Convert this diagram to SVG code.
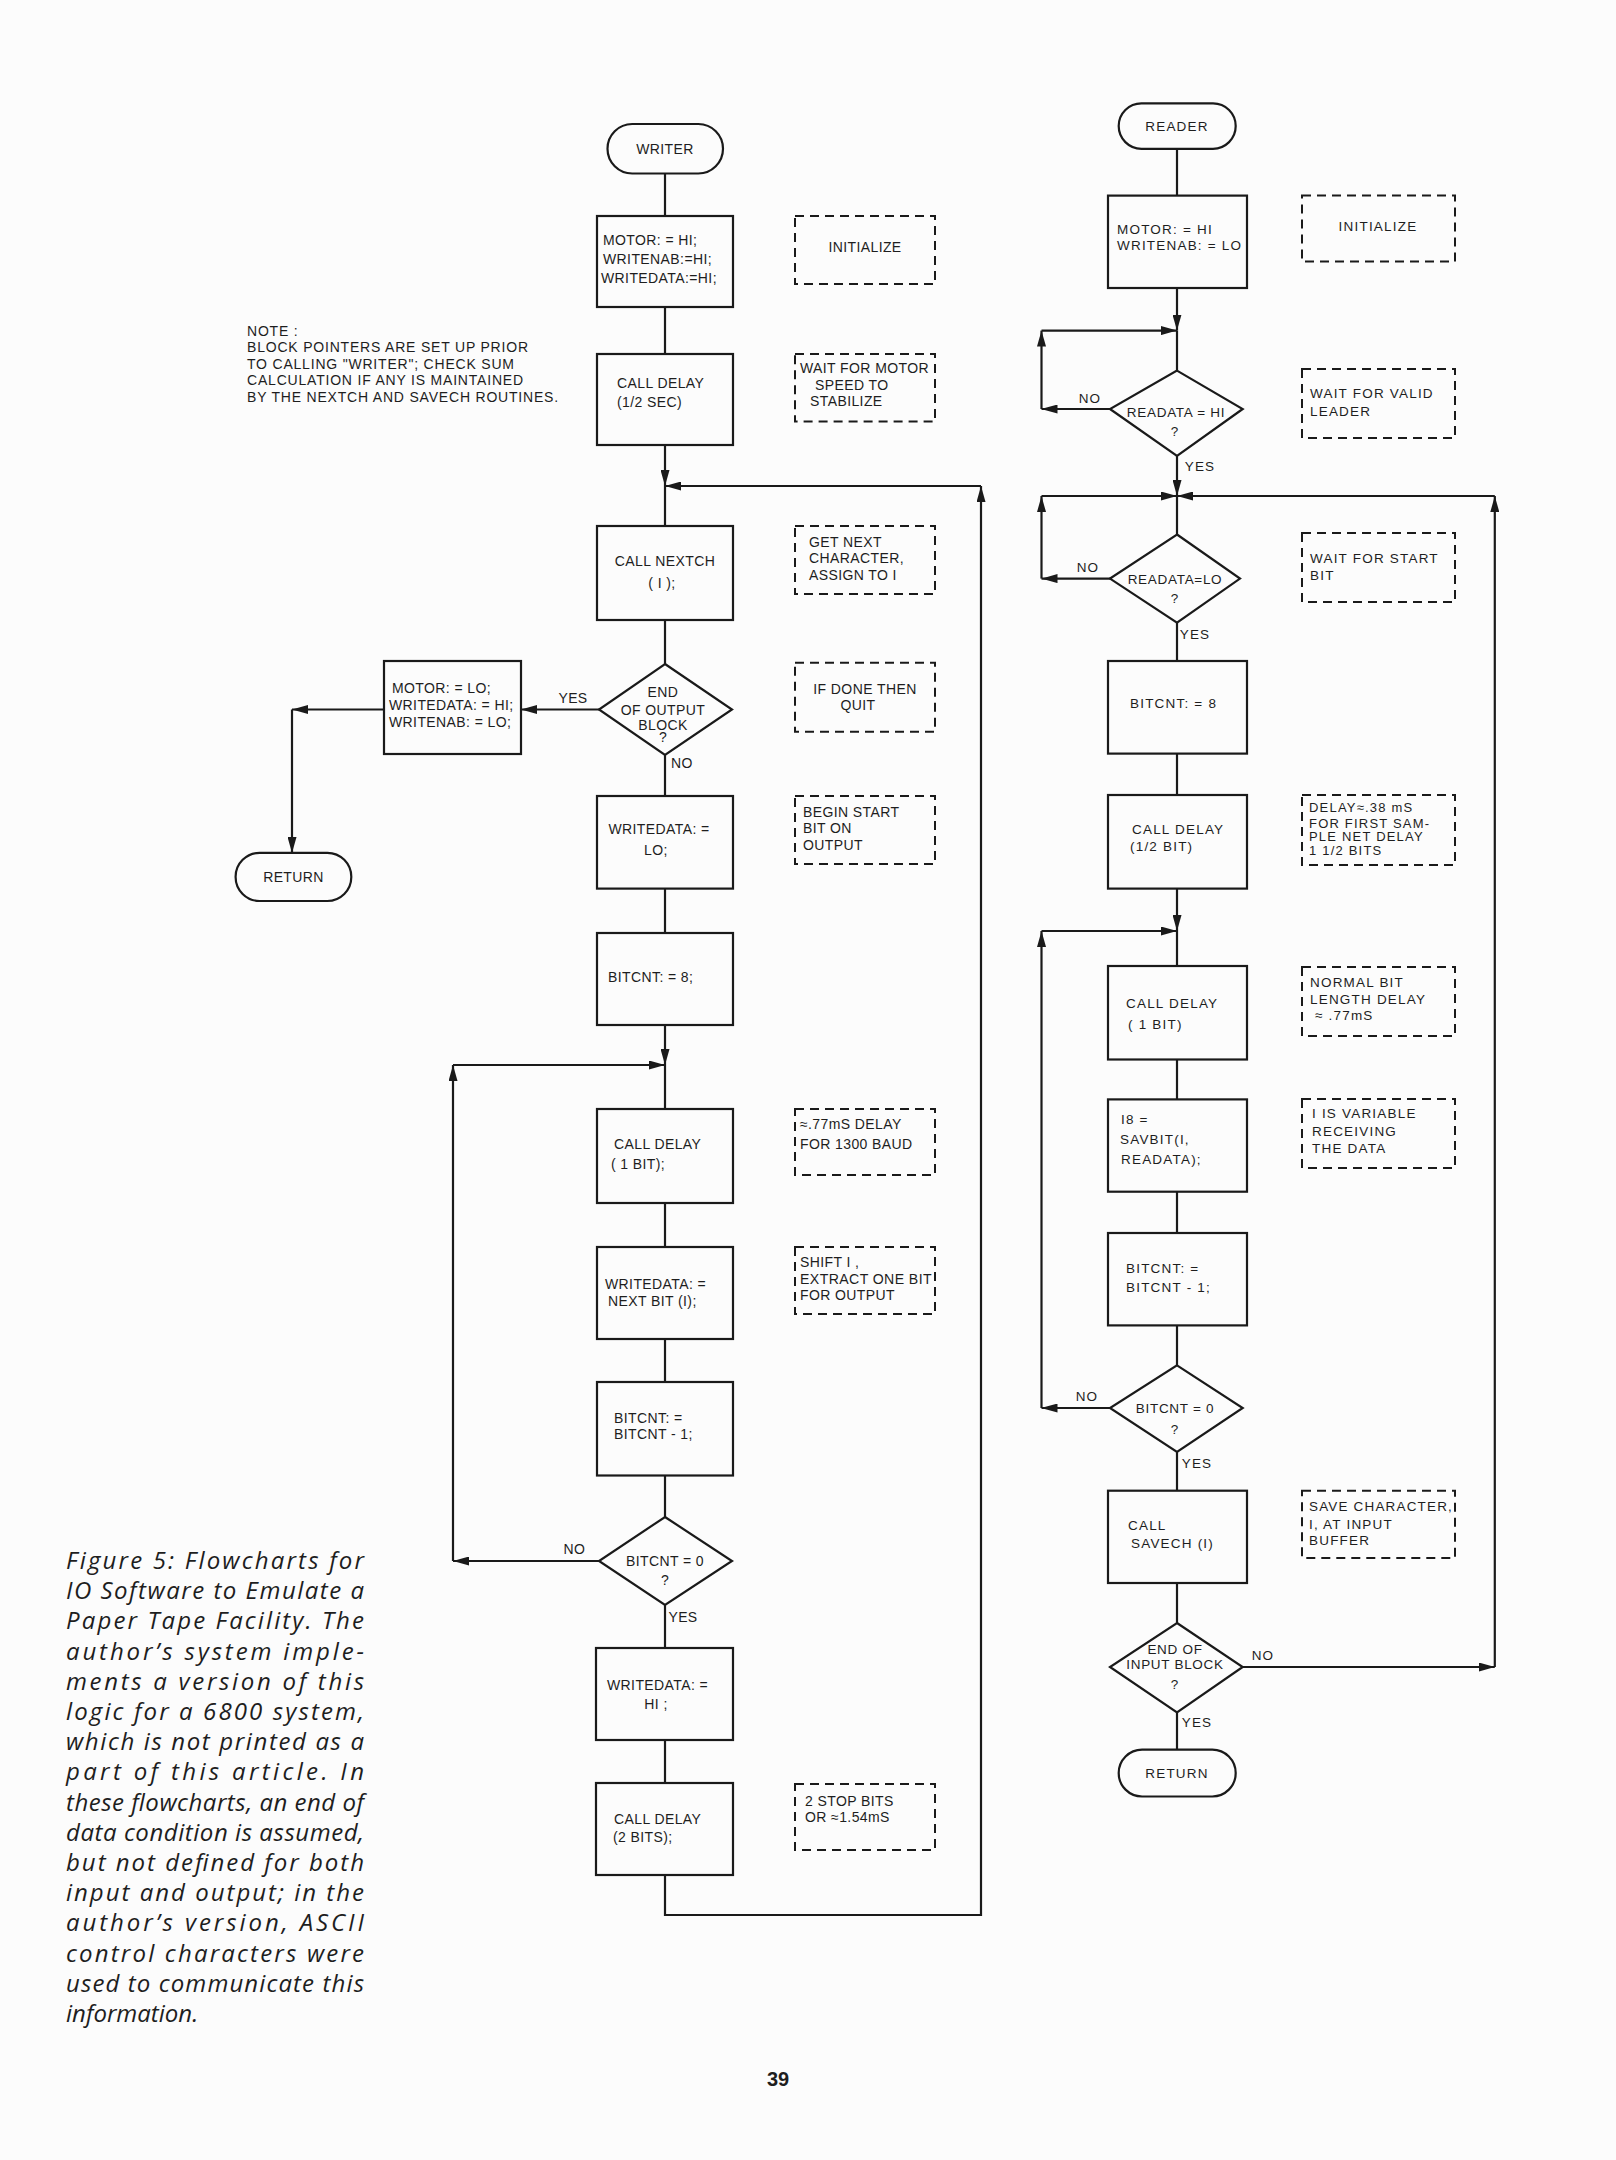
<svg xmlns="http://www.w3.org/2000/svg" width="1616" height="2160" viewBox="0 0 1616 2160">
<defs>
<marker id="ah" viewBox="0 0 16 9" refX="16" refY="4.5" markerWidth="16" markerHeight="9" markerUnits="userSpaceOnUse" orient="auto"><path d="M0,0 L16,4.5 L0,9 z" fill="#1a1a1a"/></marker>
<style>
.box{fill:none;stroke:#1a1a1a;stroke-width:2.2}
.dash{fill:none;stroke:#1a1a1a;stroke-width:2;stroke-dasharray:9 6}
.ln{fill:none;stroke:#1a1a1a;stroke-width:2.2}
.arr{marker-end:url(#ah)}
.w{font-family:"Liberation Sans",Arial,sans-serif;font-size:14px;fill:#1e1e1e;letter-spacing:0.4px}
.r{font-family:"Liberation Sans",Arial,sans-serif;font-size:13.5px;fill:#1e1e1e;letter-spacing:1.2px}
.d{letter-spacing:0.7px}
.c{text-anchor:middle}
.cap{font-family:"Open Sans","Noto Sans",sans-serif;font-style:italic;font-size:24px;fill:#1e1e1e}
.pg{font-family:"Liberation Sans",Arial,sans-serif;font-weight:bold;font-size:20px;fill:#1e1e1e}
</style>
</defs>
<rect width="1616" height="2160" fill="#fcfcfc"/>

<g id="connectors">
<path class="ln" d="M665,173.6 V216"/>
<path class="ln" d="M665,307 V354"/>
<path class="ln arr" d="M665,445 V486"/>
<path class="ln" d="M665,486 V526"/>
<path class="ln arr" d="M665,1875 V1915 H981 V486"/>
<path class="ln arr" d="M981,486 H665"/>
<path class="ln" d="M665,620 V664"/>
<path class="ln arr" d="M599,709.5 H521"/>
<path class="ln arr" d="M384,709.5 H292"/>
<path class="ln arr" d="M292,709.5 V853"/>
<path class="ln" d="M665,755 V796"/>
<path class="ln" d="M665,888.6 V933"/>
<path class="ln arr" d="M665,1025 V1065"/>
<path class="ln arr" d="M453,1561 V1065"/>
<path class="ln arr" d="M453,1065 H665"/>
<path class="ln" d="M665,1065 V1109"/>
<path class="ln" d="M665,1203 V1247"/>
<path class="ln" d="M665,1339 V1382"/>
<path class="ln" d="M665,1475.5 V1517"/>
<path class="ln arr" d="M599,1561 H453"/>
<path class="ln" d="M665,1605 V1648"/>
<path class="ln" d="M665,1740 V1783"/>

<path class="ln" d="M1177,148.8 V195.6"/>
<path class="ln arr" d="M1177,288 V330.6"/>
<path class="ln arr" d="M1041.5,409 V330.6"/>
<path class="ln arr" d="M1041.5,330.6 H1177"/>
<path class="ln arr" d="M1110,409 H1041.5"/>
<path class="ln" d="M1177,330.6 V370.6"/>
<path class="ln arr" d="M1177,456 V496"/>
<path class="ln arr" d="M1041.5,578.6 V496"/>
<path class="ln arr" d="M1041.5,496 H1177"/>
<path class="ln arr" d="M1110,578.6 H1041.5"/>
<path class="ln arr" d="M1494.8,496 H1177"/>
<path class="ln arr" d="M1242.7,1667 H1494.8"/>
<path class="ln arr" d="M1494.8,1667 V496"/>
<path class="ln" d="M1177,496 V534.5"/>
<path class="ln" d="M1177,622.7 V661"/>
<path class="ln" d="M1177,753.6 V795"/>
<path class="ln arr" d="M1177,888.6 V931"/>
<path class="ln arr" d="M1041.5,1408 V931"/>
<path class="ln arr" d="M1041.5,931 H1177"/>
<path class="ln arr" d="M1110,1408 H1041.5"/>
<path class="ln" d="M1177,931 V966"/>
<path class="ln" d="M1177,1059.5 V1099.4"/>
<path class="ln" d="M1177,1191.7 V1233"/>
<path class="ln" d="M1177,1325.4 V1365.3"/>
<path class="ln" d="M1177,1452 V1490.7"/>
<path class="ln" d="M1177,1583 V1623"/>
<path class="ln" d="M1177,1712.5 V1749.7"/>

<text class="w c" x="573" y="703">YES</text>
<text class="w c" x="682" y="768">NO</text>
<text class="w c" x="574.5" y="1554">NO</text>
<text class="w c" x="683" y="1622.4">YES</text>
<text class="r c" x="1090" y="403">NO</text>
<text class="r c" x="1200" y="470.7">YES</text>
<text class="r c" x="1088" y="572">NO</text>
<text class="r c" x="1195" y="638.7">YES</text>
<text class="r c" x="1087" y="1401">NO</text>
<text class="r c" x="1197" y="1468">YES</text>
<text class="r c" x="1263" y="1660">NO</text>
<text class="r c" x="1197" y="1727">YES</text>
</g>

<!-- WRITER -->
<g id="w-start"><rect class="box" x="607.5" y="124" width="115.5" height="49.5" rx="24.7"/><text class="w c" x="665" y="153.5">WRITER</text></g>
<g id="w-init"><rect class="box" x="597" y="216" width="136" height="91"/>
<text class="w" x="603" y="245">MOTOR: = HI;</text><text class="w" x="603" y="264">WRITENAB:=HI;</text><text class="w" x="601" y="283">WRITEDATA:=HI;</text></g>
<g id="w-note1"><rect class="dash" x="795" y="216" width="140" height="68"/><text class="w c" x="865" y="252">INITIALIZE</text></g>
<g id="w-note"><text class="w" x="247" y="335.5" style="letter-spacing:0.8px">NOTE :</text><text class="w" x="247" y="352" style="letter-spacing:0.8px">BLOCK POINTERS ARE SET UP PRIOR</text><text class="w" x="247" y="368.7" style="letter-spacing:0.8px">TO CALLING "WRITER"; CHECK SUM</text><text class="w" x="247" y="385" style="letter-spacing:0.8px">CALCULATION IF ANY IS MAINTAINED</text><text class="w" x="247" y="401.8" style="letter-spacing:0.8px">BY THE NEXTCH AND SAVECH ROUTINES.</text></g>
<g id="w-delay"><rect class="box" x="597" y="354" width="136" height="91"/><text class="w" x="617" y="388">CALL DELAY</text><text class="w" x="617" y="407">(1/2 SEC)</text></g>
<g id="w-note2"><rect class="dash" x="795" y="354" width="140" height="67.6"/><text class="w" x="800" y="373">WAIT FOR MOTOR</text><text class="w" x="815" y="389.5">SPEED TO</text><text class="w" x="810" y="406">STABILIZE</text></g>
<g id="w-nextch"><rect class="box" x="597" y="526" width="136" height="94"/><text class="w c" x="665" y="566">CALL NEXTCH</text><text class="w c" x="662" y="588">( I );</text></g>
<g id="w-note3"><rect class="dash" x="795" y="526" width="140" height="68"/><text class="w" x="809" y="546.5">GET NEXT</text><text class="w" x="809" y="563">CHARACTER,</text><text class="w" x="809" y="579.5">ASSIGN TO I</text></g>
<g id="w-dec1"><path class="box" d="M665,664 L732,709.5 L665,755 L599,709.5 Z"/><text class="w c" x="663" y="696.5">END</text><text class="w c" x="663" y="714.5">OF OUTPUT</text><text class="w c" x="663" y="729.7">BLOCK</text><text class="w c" x="663" y="742">?</text></g>
<g id="w-stop"><rect class="box" x="384" y="661" width="137" height="93"/><text class="w" x="392" y="692.5">MOTOR: = LO;</text><text class="w" x="389" y="710.4">WRITEDATA: = HI;</text><text class="w" x="389" y="727">WRITENAB: = LO;</text></g>
<g id="w-return"><rect class="box" x="235.6" y="852.8" width="115.7" height="48.2" rx="24"/><text class="w c" x="293.5" y="882">RETURN</text></g>
<g id="w-note4"><rect class="dash" x="795" y="662.7" width="140" height="69"/><text class="w c" x="865" y="694">IF DONE THEN</text><text class="w c" x="858" y="710.4">QUIT</text></g>
<g id="w-startbit"><rect class="box" x="597" y="796" width="136" height="92.6"/><text class="w c" x="659" y="834.4">WRITEDATA: =</text><text class="w c" x="656" y="855">LO;</text></g>
<g id="w-note5"><rect class="dash" x="795" y="796" width="140" height="68"/><text class="w" x="803" y="816.5">BEGIN START</text><text class="w" x="803" y="833">BIT ON</text><text class="w" x="803" y="849.5">OUTPUT</text></g>
<g id="w-bitcnt"><rect class="box" x="597" y="933" width="136" height="92"/><text class="w" x="608" y="981.8">BITCNT: = 8;</text></g>
<g id="w-delay1"><rect class="box" x="597" y="1109" width="136" height="94"/><text class="w" x="614" y="1148.5">CALL DELAY</text><text class="w" x="611" y="1169">( 1 BIT);</text></g>
<g id="w-note6"><rect class="dash" x="795" y="1109" width="140" height="66"/><text class="w" x="800" y="1129">≈.77mS DELAY</text><text class="w" x="800" y="1148.5">FOR 1300 BAUD</text></g>
<g id="w-nextbit"><rect class="box" x="597" y="1247" width="136" height="92"/><text class="w" x="605" y="1289">WRITEDATA: =</text><text class="w" x="608" y="1305.6">NEXT BIT (I);</text></g>
<g id="w-note7"><rect class="dash" x="795" y="1247" width="140" height="67"/><text class="w" x="800" y="1267">SHIFT I ,</text><text class="w" x="800" y="1283.5" textLength="132" lengthAdjust="spacingAndGlyphs">EXTRACT ONE BIT</text><text class="w" x="800" y="1300">FOR OUTPUT</text></g>
<g id="w-dec"><rect class="box" x="597" y="1382" width="136" height="93.5"/><text class="w" x="614" y="1422.6">BITCNT: =</text><text class="w" x="614" y="1439">BITCNT - 1;</text></g>
<g id="w-dec2"><path class="box" d="M665,1517 L732,1561 L665,1605 L599,1561 Z"/><text class="w c" x="665" y="1566">BITCNT = 0</text><text class="w c" x="665" y="1585">?</text></g>
<g id="w-hi"><rect class="box" x="596" y="1648" width="137" height="92"/><text class="w" x="607" y="1690">WRITEDATA: =</text><text class="w c" x="656" y="1709">HI ;</text></g>
<g id="w-delay2"><rect class="box" x="596" y="1783" width="137" height="92"/><text class="w" x="614" y="1823.6">CALL DELAY</text><text class="w" x="613" y="1841.5">(2 BITS);</text></g>
<g id="w-note8"><rect class="dash" x="795" y="1784" width="140" height="66"/><text class="w" x="805" y="1805.7">2 STOP BITS</text><text class="w" x="805" y="1822">OR ≈1.54mS</text></g>

<!-- READER -->
<g id="r-start"><rect class="box" x="1118.7" y="103.3" width="117" height="45.5" rx="22.7"/><text class="r c" x="1177" y="130.5">READER</text></g>
<g id="r-init"><rect class="box" x="1108" y="195.6" width="139" height="92.4"/><text class="r" x="1117" y="233.7">MOTOR: = HI</text><text class="r" x="1117" y="250.2">WRITENAB: = LO</text></g>
<g id="r-note1"><rect class="dash" x="1302" y="195.6" width="153" height="66"/><text class="r c" x="1378" y="231">INITIALIZE</text></g>
<g id="r-dec1"><path class="box" d="M1177,370.6 L1242.7,409 L1177,456 L1110,409 Z"/><text class="r c d" x="1176" y="417">READATA = HI</text><text class="r c" x="1175" y="436">?</text></g>
<g id="r-note2"><rect class="dash" x="1302" y="369" width="153" height="69"/><text class="r" x="1310" y="397.6">WAIT FOR VALID</text><text class="r" x="1310" y="415.5">LEADER</text></g>
<g id="r-dec2"><path class="box" d="M1177,534.5 L1240,578.6 L1177,622.7 L1110,578.6 Z"/><text class="r c d" x="1175" y="583.6">READATA=LO</text><text class="r c" x="1175" y="603">?</text></g>
<g id="r-note3"><rect class="dash" x="1302" y="533" width="153" height="69"/><text class="r" x="1310" y="563">WAIT FOR START</text><text class="r" x="1310" y="579.5">BIT</text></g>
<g id="r-bitcnt"><rect class="box" x="1108" y="661" width="139" height="92.6"/><text class="r" x="1130" y="707.6">BITCNT: = 8</text></g>
<g id="r-delayh"><rect class="box" x="1108" y="795" width="139" height="93.6"/><text class="r" x="1132" y="834.4">CALL DELAY</text><text class="r" x="1130" y="851">(1/2 BIT)</text></g>
<g id="r-note4"><rect class="dash" x="1302" y="795" width="153" height="70"/><text class="r" x="1309" y="812.3" style="font-size:13px">DELAY≈.38 mS</text><text class="r" x="1309" y="827.5" style="font-size:13px">FOR FIRST SAM-</text><text class="r" x="1309" y="841.3" style="font-size:13px">PLE NET DELAY</text><text class="r" x="1309" y="855" style="font-size:13px">1 1/2 BITS</text></g>
<g id="r-delay1"><rect class="box" x="1108" y="966" width="139" height="93.5"/><text class="r" x="1126" y="1008">CALL DELAY</text><text class="r" x="1128" y="1028.6">( 1  BIT)</text></g>
<g id="r-note5"><rect class="dash" x="1302" y="967" width="153" height="69"/><text class="r" x="1310" y="987">NORMAL BIT</text><text class="r" x="1310" y="1003.8">LENGTH DELAY</text><text class="r" x="1315" y="1020.4">≈ .77mS</text></g>
<g id="r-savbit"><rect class="box" x="1108" y="1099.4" width="139" height="92.3"/><text class="r" x="1121" y="1123.7">I8 =</text><text class="r" x="1120" y="1144.4">SAVBIT(I,</text><text class="r" x="1121" y="1163.6">READATA);</text></g>
<g id="r-note6"><rect class="dash" x="1302" y="1099" width="153" height="69"/><text class="r" x="1312" y="1118">I IS VARIABLE</text><text class="r" x="1312" y="1136">RECEIVING</text><text class="r" x="1312" y="1152.6">THE DATA</text></g>
<g id="r-dec"><rect class="box" x="1108" y="1233" width="139" height="92.4"/><text class="r" x="1126" y="1272.5">BITCNT: =</text><text class="r" x="1126" y="1291.8">BITCNT - 1;</text></g>
<g id="r-dec3"><path class="box" d="M1177,1365.3 L1242.7,1408 L1177,1452 L1110,1408 Z"/><text class="r c d" x="1175" y="1413">BITCNT = 0</text><text class="r c" x="1175" y="1433.7">?</text></g>
<g id="r-savech"><rect class="box" x="1108" y="1490.7" width="139" height="92.3"/><text class="r" x="1128" y="1530">CALL</text><text class="r" x="1131" y="1548">SAVECH (I)</text></g>
<g id="r-note7"><rect class="dash" x="1302" y="1490.7" width="153" height="67.3"/><text class="r" x="1309" y="1510.8" textLength="144" lengthAdjust="spacingAndGlyphs">SAVE CHARACTER,</text><text class="r" x="1309" y="1528.7">I, AT INPUT</text><text class="r" x="1309" y="1545">BUFFER</text></g>
<g id="r-dec4"><path class="box" d="M1177,1623 L1242.7,1667 L1177,1712.5 L1110,1667 Z"/><text class="r c d" x="1175" y="1654">END OF</text><text class="r c d" x="1175" y="1669.3">INPUT BLOCK</text><text class="r c" x="1175" y="1688.5">?</text></g>
<g id="r-return"><rect class="box" x="1118.7" y="1749.7" width="117" height="46.8" rx="23.4"/><text class="r c" x="1177" y="1778">RETURN</text></g>

<g id="caption">
<text class="cap" x="66" y="1569" textLength="298" lengthAdjust="spacing">Figure 5: Flowcharts for</text>
<text class="cap" x="66" y="1599.2" textLength="298" lengthAdjust="spacing">IO Software to Emulate a</text>
<text class="cap" x="66" y="1629.4" textLength="298" lengthAdjust="spacing">Paper Tape Facility. The</text>
<text class="cap" x="66" y="1659.6" textLength="298" lengthAdjust="spacing">author’s system imple-</text>
<text class="cap" x="66" y="1689.8" textLength="298" lengthAdjust="spacing">ments a version of this</text>
<text class="cap" x="66" y="1720" textLength="298" lengthAdjust="spacing">logic for a 6800 system,</text>
<text class="cap" x="66" y="1750.2" textLength="298" lengthAdjust="spacing">which is not printed as a</text>
<text class="cap" x="66" y="1780.4" textLength="298" lengthAdjust="spacing">part of this article. In</text>
<text class="cap" x="66" y="1810.6" textLength="298" lengthAdjust="spacing">these flowcharts, an end of</text>
<text class="cap" x="66" y="1840.8" textLength="298" lengthAdjust="spacing">data condition is assumed,</text>
<text class="cap" x="66" y="1871" textLength="298" lengthAdjust="spacing">but not defined for both</text>
<text class="cap" x="66" y="1901.2" textLength="298" lengthAdjust="spacing">input and output; in the</text>
<text class="cap" x="66" y="1931.4" textLength="298" lengthAdjust="spacing">author’s version, ASCII</text>
<text class="cap" x="66" y="1961.6" textLength="298" lengthAdjust="spacing">control characters were</text>
<text class="cap" x="66" y="1991.8" textLength="298" lengthAdjust="spacing">used to communicate this</text>
<text class="cap" x="66" y="2022">information.</text>
</g>
<text class="pg c" x="778" y="2086">39</text>
</svg>
